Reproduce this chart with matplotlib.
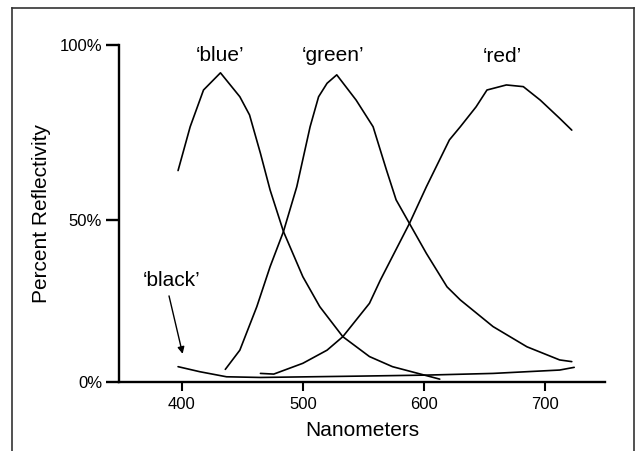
import matplotlib
matplotlib.use("Agg")
import matplotlib.pyplot as plt
from matplotlib.lines import Line2D

plt.rcParams['font.family'] = ['Liberation Sans', 'DejaVu Sans']

# reflectivity curves (nm, percent)
blue_nm = [397, 407, 418, 432, 448, 456, 465, 473, 484, 500, 514, 533, 555, 574, 613]
blue_pct = [62.6, 75.6, 86.5, 91.6, 84.5, 79.1, 67.7, 56.8, 44.5, 31.1, 22.2, 13.3, 7.4, 4.4, 0.7]

green_nm = [436, 448, 462, 473, 484, 495, 506, 513, 520, 528, 544, 558, 569, 577, 588,
            602, 619, 630, 657, 685, 712, 722]
green_pct = [3.6, 9.3, 22.2, 34.1, 44.5, 57.8, 75.6, 84.5, 88.5, 91.0, 83.5, 75.6, 62.8,
             53.9, 46.9, 38.0, 28.1, 24.2, 16.3, 10.3, 6.4, 5.9]

red_nm = [465, 476, 500, 520, 533, 555, 564, 588, 602, 621, 630, 643, 652, 668, 682, 696, 712, 722]
red_pct = [2.4, 2.2, 5.4, 9.3, 13.3, 23.2, 30.1, 46.9, 57.8, 71.7, 75.6, 81.5, 86.5, 88.0,
           87.5, 83.5, 78.1, 74.6]

black_nm = [397, 415, 437, 465, 547, 602, 657, 712, 724]
black_pct = [4.4, 2.9, 1.4, 1.2, 1.6, 1.9, 2.4, 3.4, 4.2]

x_ticks = [400, 500, 600, 700]
y_ticks = [0, 48, 100]
y_labels = ['0%', '50%', '100%']

fig = plt.figure(figsize=(6.36, 4.51), dpi=100)
ax = fig.add_axes([0.1876, 0.1541, 0.951 - 0.1876, 0.9013 - 0.1541])

for xs, ys in [(blue_nm, blue_pct), (green_nm, green_pct), (red_nm, red_pct), (black_nm, black_pct)]:
    ax.plot(xs, ys, color='black', linewidth=1.2, solid_joinstyle='round', solid_capstyle='round')

ax.set_xlim(348.5, 749.3)
ax.set_ylim(0, 100)
ax.spines['top'].set_visible(False)
ax.spines['right'].set_visible(False)
for s in ['left', 'bottom']:
    ax.spines[s].set_linewidth(1.7)

ax.set_xticks(x_ticks)
ax.set_yticks(y_ticks)
ax.set_yticklabels(y_labels)
ax.tick_params(axis='x', length=6.5, width=1.5, labelsize=12, pad=5)
ax.tick_params(axis='y', length=9.4, width=1.7, labelsize=12, pad=3)
ax.set_xlabel('Nanometers', fontsize=15, labelpad=6)
ax.set_ylabel('Percent Reflectivity', fontsize=15, labelpad=6)

ax.text(431.7, 96.6, '\u2018blue\u2019', fontsize=15, ha='center', va='center')
ax.text(525, 96.6, '\u2018green\u2019', fontsize=15, ha='center', va='center')
ax.text(665, 96.3, '\u2018red\u2019', fontsize=15, ha='center', va='center')
ax.text(391.7, 30.1, '\u2018black\u2019', fontsize=15, ha='center', va='center')
ax.annotate('', xy=(401.3, 7.4), xytext=(389, 26.2),
            arrowprops=dict(arrowstyle='-|>', color='black', lw=1.0, mutation_scale=10))

# open frame around the figure
W, H = 636, 451
fc = '#333333'
fig.add_artist(Line2D([12 / W, 12 / W], [0, 1 - 8 / H], color=fc, lw=1.2))
fig.add_artist(Line2D([12 / W, 634 / W], [1 - 8 / H, 1 - 8 / H], color=fc, lw=1.2))
fig.add_artist(Line2D([634 / W, 634 / W], [0, 1 - 8 / H], color=fc, lw=1.2))

fig.savefig('out.png', dpi=100)
